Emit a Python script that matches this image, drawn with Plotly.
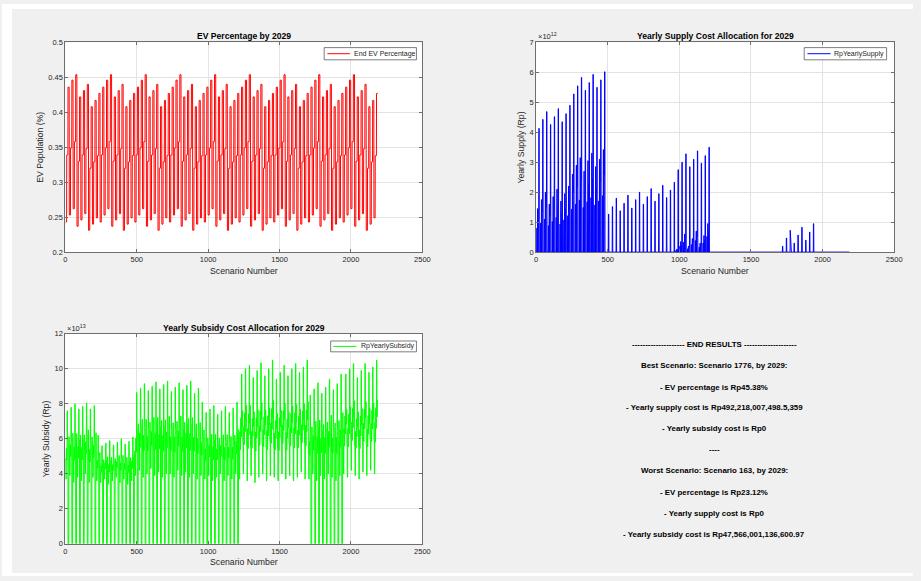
import numpy as np
import plotly.graph_objects as go

W, H = 921, 581
FONT = "Liberation Sans, Arial, Helvetica, sans-serif"
TXT = "#262626"

# ---------------- scenario grid ----------------
# 2187 scenarios = 9 cycles x 9 blocks x 27 scenarios; each block holds
# nine steps of 3 scenarios, grouped in three adoption stages.
N_SCEN = 2187

# EV share per block stage (the same 9-block pattern in every cycle)
ev_low = [0.243, 0.253, 0.262, 0.237, 0.246, 0.255, 0.2312, 0.240, 0.249]
ev_mid = [0.339, 0.349, 0.358, 0.330, 0.339, 0.348, 0.320, 0.329, 0.338]
ev_high = [0.436, 0.446, 0.4538, 0.422, 0.431, 0.440, 0.408, 0.417, 0.427]

# Yearly supply cost per block, in 1e12 Rp (tall spike and lower spike)
supply_hi_c01 = [4.13, 4.43, 4.69, 4.26, 4.52, 4.79, 4.35, 4.62, 4.90,
                 5.28, 5.55, 5.83, 5.40, 5.66, 5.93, 5.50, 5.75, 6.02]
supply_lo_c01 = [1.45, 1.75, 2.00, 1.60, 1.85, 2.10, 1.70, 1.95, 2.20,
                 2.60, 2.90, 3.15, 2.70, 3.05, 3.30, 2.85, 3.10, 3.42]
supply_hi_c23 = [1.27, 1.52, 1.80, 1.38, 1.63, 1.90, 1.47, 1.75, 2.00,
                 1.60, 1.85, 2.12, 1.70, 1.95, 2.23, 1.82, 2.07, 2.33]
supply_hi_c4 = [2.75, 3.00, 3.28, 2.85, 3.10, 3.38, 2.97, 3.22, 3.50]
supply_lo_c4 = [0.10, 0.35, 0.60, 0.20, 0.45, 0.70, 0.30, 0.55, 0.95]
supply_hi_c7 = [0.20, 0.47, 0.73, 0.30, 0.57, 0.83, 0.40, 0.67, 0.95]
# share of the lower spike paid at each step of a block; "H" marks the tall spike
supply_steps = [0.0, 0.55, 0.0, 1.0, 0.0, 0.75, "H", 0.0, 0.0]

# Yearly subsidy cost: block peaks per cycle and floor of each cycle, 1e13 Rp
sub_peak = [
    [7.60, 7.80, 8.00, 7.70, 7.85, 8.05, 7.70, 7.90, 6.20],
    [5.60, 5.75, 5.90, 5.65, 5.80, 6.00, 5.70, 5.85, 6.10],
    [8.65, 8.90, 9.15, 8.75, 9.00, 9.25, 8.85, 9.10, 9.30],
    [8.70, 8.95, 9.20, 8.80, 9.05, 9.30, 8.60, 8.90, 8.10],
    [7.50, 7.70, 7.90, 7.40, 7.60, 7.85, 7.50, 7.75, 8.10],
    [9.70, 10.00, 10.20, 9.50, 9.90, 10.35, 9.60, 10.00, 10.50],
    [9.40, 9.80, 10.20, 9.60, 10.00, 10.30, 9.80, 10.10, 10.50],
    [8.50, 8.85, 9.20, 8.60, 8.95, 9.40, 8.80, 9.15, 9.70],
    [9.70, 10.00, 10.30, 9.50, 9.90, 10.30, 9.80, 10.10, 10.50],
]
sub_floor = [
    [3.7, 3.9, 3.5, 3.8, 3.6, 4.0, 3.5, 3.8, 3.6],
    [3.5, 3.7, 3.4, 3.6, 3.8, 3.5, 3.7, 3.4, 3.6],
    [3.9, 4.2, 3.8, 4.0, 4.3, 3.9, 4.1, 3.8, 4.0],
    [4.0, 3.8, 4.2, 3.9, 4.1, 3.8, 4.0, 3.7, 3.9],
    [3.7, 3.9, 3.6, 3.8, 4.0, 3.6, 3.9, 3.7, 4.0],
    [3.7, 4.0, 3.6, 3.9, 3.5, 3.8, 4.0, 3.6, 3.9],
    [3.8, 3.6, 4.0, 3.7, 3.9, 3.6, 3.8, 4.1, 3.7],
    [3.7, 4.0, 3.6, 3.9, 3.7, 4.0, 3.8, 3.6, 3.9],
    [4.0, 3.8, 4.2, 3.9, 3.7, 4.1, 3.9, 4.2, 4.0],
]
# cycles where part of every block is paid through supply instead of subsidy
sub_has_gap = [True, True, True, True, True, False, False, True, False]
# position of each step between floor (0) and peak (1); None = no subsidy paid
sub_shape_full = [0.30, 0.00, 0.45, 0.28, 0.58, 0.40, 1.00, 0.50, 0.65]
sub_shape_gap = [0.30, 0.00, 0.45, 0.28, 1.00, 0.55, None, None, 0.62]

# Reported extremes
best_scen, best_ev, best_supply, best_subsidy = 1776, 0.4538, 492218007498.5, 0.0
worst_scen, worst_ev, worst_supply, worst_subsidy = 163, 0.2312, 0.0, 47566001136600.97

# ---------------- build series ----------------
scen = np.arange(1, N_SCEN + 1)
idx = scen - 1
cyc = idx // 243
blk = (idx // 27) % 9
gblk = idx // 27
stage = (idx % 27) // 9
step = (idx % 27) // 3

ev = np.choose(stage, [np.array(ev_low)[blk], np.array(ev_mid)[blk], np.array(ev_high)[blk]])

supply_hi = supply_hi_c01 + supply_hi_c23 + supply_hi_c4 + [0.0] * 18 + supply_hi_c7 + [0.0] * 9
supply_lo = supply_lo_c01 + [0.0] * 18 + supply_lo_c4 + [0.0] * 18 + [0.0] * 9 + [0.0] * 9

supply = np.zeros(N_SCEN)
subsidy = np.zeros(N_SCEN)
for k in range(N_SCEN):
    c, b, s, g = cyc[k], blk[k], step[k], gblk[k]
    sp = supply_steps[s]
    supply[k] = (supply_hi[g] if sp == "H" else sp * supply_lo[g]) * 1e12
    f = (sub_shape_gap if sub_has_gap[c] else sub_shape_full)[s]
    if f is not None:
        lo = sub_floor[c][b]
        subsidy[k] = (lo + f * (sub_peak[c][b] - lo)) * 1e13

for sc, e, sp, sb in [(best_scen, best_ev, best_supply, best_subsidy),
                      (worst_scen, worst_ev, worst_supply, worst_subsidy)]:
    ev[sc - 1], supply[sc - 1], subsidy[sc - 1] = e, sp, sb

# ---------------- figure ----------------
def px_x(x):
    return x / W

def px_y(y):
    return 1 - y / H

fig = go.Figure()
fig.add_trace(go.Scatter(x=scen, y=ev, mode="lines", name="End EV Percentage",
                         line=dict(color="#ff0000", width=1.0), xaxis="x", yaxis="y"))
fig.add_trace(go.Scatter(x=scen, y=supply, mode="lines", name="RpYearlySupply",
                         line=dict(color="#0000ff", width=1.0), xaxis="x2", yaxis="y2"))
fig.add_trace(go.Scatter(x=scen, y=subsidy, mode="lines", name="RpYearlySubsidy",
                         line=dict(color="#00ff00", width=1.0), xaxis="x3", yaxis="y3"))

axis_common = dict(showline=True, mirror="ticks", linecolor="#6e6e6e", linewidth=0.8,
                   ticks="inside", ticklen=3, tickcolor="#6e6e6e", showgrid=True,
                   gridcolor="#e3e3e3", gridwidth=0.8, zeroline=False,
                   tickfont=dict(family=FONT, size=7.5, color=TXT))

xt = [0, 500, 1000, 1500, 2000, 2500]
left_dom = [px_x(64), px_x(425)]
right_dom = [px_x(540), px_x(902)]
top_dom = [px_y(252), px_y(39)]
bot_dom = [px_y(548.3), px_y(335)]

fig.update_layout(
    xaxis=dict(domain=left_dom, range=[0, 2500], tickvals=xt, anchor="y", **axis_common),
    yaxis=dict(domain=top_dom, range=[0.2, 0.5], dtick=0.05, anchor="x", **axis_common),
    xaxis2=dict(domain=right_dom, range=[0, 2500], tickvals=xt, anchor="y2", **axis_common),
    yaxis2=dict(domain=top_dom, range=[0, 7e12], tickvals=[i * 1e12 for i in range(8)],
                ticktext=[str(i) for i in range(8)], anchor="x2", **axis_common),
    xaxis3=dict(domain=left_dom, range=[0, 2500], tickvals=xt, anchor="y3", **axis_common),
    yaxis3=dict(domain=bot_dom, range=[0, 12e13], tickvals=[i * 2e13 for i in range(7)],
                ticktext=[str(2 * i) for i in range(7)], anchor="x3", **axis_common),
    showlegend=False,
)

ann = []
shapes = [
    dict(type="rect", xref="paper", yref="paper", x0=0, x1=px_x(10), y0=0, y1=1,
         fillcolor="white", line_width=0, layer="below"),
    dict(type="rect", xref="paper", yref="paper", x0=0, x1=1, y0=px_y(5), y1=1,
         fillcolor="white", line_width=0, layer="below"),
    dict(type="rect", xref="paper", yref="paper", x0=0, x1=1, y0=0, y1=px_y(578),
         fillcolor="white", line_width=0, layer="below"),
]

def label(x, y, text, size, bold=False, angle=0, color=TXT, xanchor="center"):
    ann.append(dict(x=px_x(x), y=px_y(y), xref="paper", yref="paper",
                    text=f"<b>{text}</b>" if bold else text,
                    showarrow=False, textangle=angle, xanchor=xanchor, yanchor="middle",
                    font=dict(family=FONT, size=size, color=color)))

def legend_box(x0, x1, y0, y1, line_x0, line_x1, text_x, name, color):
    shapes.append(dict(type="rect", xref="paper", yref="paper",
                       x0=px_x(x0), x1=px_x(x1), y0=px_y(y1), y1=px_y(y0),
                       fillcolor="white", line=dict(color="#262626", width=0.6), layer="above"))
    ym = (y0 + y1) / 2
    shapes.append(dict(type="line", xref="paper", yref="paper",
                       x0=px_x(line_x0), x1=px_x(line_x1), y0=px_y(ym), y1=px_y(ym),
                       line=dict(color=color, width=1.0), layer="above"))
    label(text_x, ym, name, 7, xanchor="left")

# legends
legend_box(325.7, 419, 44.3, 56.7, 329, 351.7, 354, "End EV Percentage", "#ff0000")
legend_box(811, 894.3, 44.3, 56.7, 814.3, 837.7, 839.5, "RpYearlySupply", "#0000ff")
legend_box(332.3, 419, 342.3, 353.3, 335, 358.3, 361, "RpYearlySubsidy", "#00ff00")

# titles
label(244.5, 32, "EV Percentage by 2029", 8.6, bold=True, color="#000000")
label(721, 32, "Yearly Supply Cost Allocation for 2029", 8.6, bold=True, color="#000000")
label(244.5, 329, "Yearly Subsidy Cost Allocation for 2029", 8.6, bold=True, color="#000000")
# axis labels
label(244.5, 271, "Scenario Number", 8.7)
label(721, 271, "Scenario Number", 8.7)
label(244.5, 567, "Scenario Number", 8.7)
label(39, 145.5, "EV Population (%)", 8.7, angle=-90)
label(525, 145.5, "Yearly Supply (Rp)", 8.7, angle=-90)
label(44, 441.5, "Yearly Subsidy (Rp)", 8.7, angle=-90)
# exponent markers
label(540, 33, "×10<sup>12</sup>", 7.5, xanchor="left")
label(64, 329.5, "×10<sup>13</sup>", 7.5, xanchor="left")

# results panel
results = [
    "-------------------- END RESULTS --------------------",
    f"Best Scenario: Scenario {best_scen}, by 2029:",
    f"- EV percentage is Rp{best_ev * 100:.2f}%",
    "- Yearly supply cost is Rp492,218,007,498.5,359",
    f"- Yearly subsidy cost is Rp{best_subsidy:.0f}",
    "----",
    f"Worst Scenario: Scenario {worst_scen}, by 2029:",
    f"- EV percentage is Rp{worst_ev * 100:.2f}%",
    f"- Yearly supply cost is Rp{worst_supply:.0f}",
    f"- Yearly subsidy cost is Rp{worst_subsidy:,.2f}",
]
rows_y = [345.7, 367.3, 389.3, 410, 431, 452.7, 474, 495.7, 517.3, 539]
for t, yy in zip(results, rows_y):
    label(720, yy, t, 7.9, bold=True, color="#000000")

fig.update_layout(
    annotations=ann,
    shapes=shapes,
    width=W, height=H,
    margin=dict(l=0, r=0, t=0, b=0),
    paper_bgcolor="#f0f0f0",
    plot_bgcolor="white",
)

fig.write_html("out.html")
